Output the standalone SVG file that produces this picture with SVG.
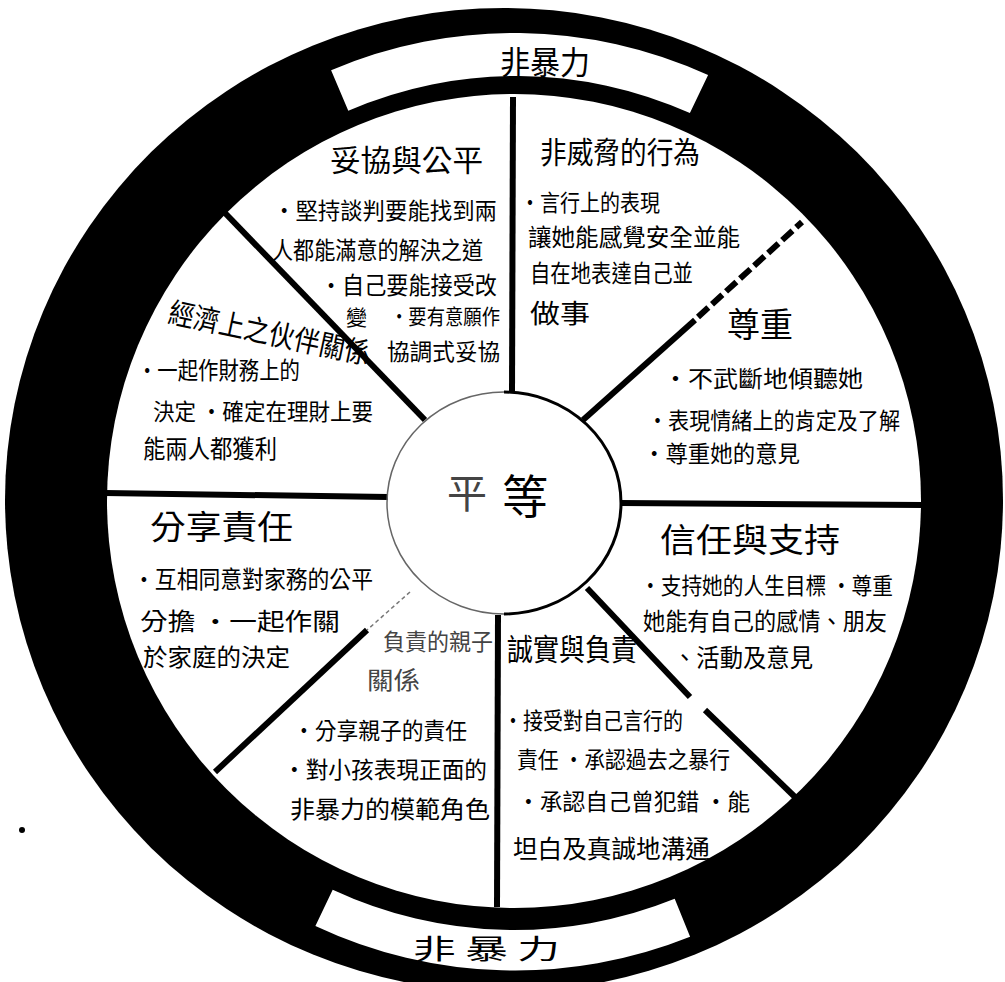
<svg xmlns="http://www.w3.org/2000/svg" width="1005" height="982" viewBox="0 0 1005 982">
<style>
  text { font-family: "Noto Sans CJK TC", "Noto Sans CJK SC", sans-serif; fill: #000; }
  .faint { fill: #444; }
  .spoke { stroke: #000; stroke-width: 6; stroke-linecap: butt; fill: none; }
</style>
<rect width="1005" height="982" fill="#fff"/>
<g id="ring">
  <ellipse cx="504" cy="500" rx="499" ry="492" fill="#000"/>
  <circle cx="514" cy="501" r="407" fill="#fff"/>
</g>
<g id="banner-top">
  <path d="M 331.1 70.2 A 468 468 0 0 1 708.1 75.1 L 689.9 113.1 A 424 424 0 0 0 348.3 110.7 Z" fill="#fff"/>
  <text x="500" y="74" font-size="32" textLength="90" lengthAdjust="spacingAndGlyphs">非暴力</text>
</g>
<g id="banner-bottom">
  <path d="M 674.7 898.8 A 429 429 0 0 1 332.7 889.8 L 315.4 926.0 A 470 470 0 0 0 690.1 936.8 Z" fill="#fff"/>
  <text x="413" y="959" font-size="27" textLength="147" lengthAdjust="spacingAndGlyphs">非 暴 力</text>
</g>
<g id="connectors">
  <line class="spoke" x1="513" y1="97" x2="512" y2="393"/>
  <line class="spoke" x1="583" y1="420" x2="695" y2="320"/>
  <line class="spoke" x1="698" y1="317" x2="802" y2="222" stroke-dasharray="14 5" stroke-width="4"/>
  <line class="spoke" x1="620" y1="503" x2="922" y2="505" stroke-width="7"/>
  <line class="spoke" x1="587" y1="588" x2="690" y2="697"/>
  <line class="spoke" x1="705" y1="710" x2="795" y2="797"/>
  <line class="spoke" x1="498" y1="615" x2="497" y2="907"/>
  <line class="spoke" x1="367" y1="630" x2="215" y2="772" stroke-width="5"/>
  <line x1="410" y1="592" x2="367" y2="630" stroke="#777" stroke-width="1.5" stroke-dasharray="4 3"/>
  <line class="spoke" x1="105" y1="493" x2="388" y2="497"/>
  <line class="spoke" x1="225" y1="213" x2="425" y2="420"/>
</g>
<g id="center">
  <path d="M 504 392 A 117 111 0 0 1 504 614" fill="none" stroke="#000" stroke-width="3"/>
  <path d="M 504 392 A 117 111 0 0 0 504 614" fill="none" stroke="#666" stroke-width="1.5"/>
  <text x="447" y="508" font-size="40" class="faint">平</text>
  <text x="502" y="513" font-size="46">等</text>
</g>
<g id="sector-negotiation">
  <text x="330" y="171" font-size="30" textLength="153" lengthAdjust="spacingAndGlyphs">妥協與公平</text>
  <text x="273" y="219" font-size="23" textLength="224" lengthAdjust="spacingAndGlyphs">•堅持談判要能找到兩</text>
  <text x="272" y="259" font-size="24" textLength="211" lengthAdjust="spacingAndGlyphs">人都能滿意的解決之道</text>
  <text x="320" y="294" font-size="24" textLength="177" lengthAdjust="spacingAndGlyphs">•自己要能接受改</text>
  <text x="346" y="325" font-size="21">變</text>
  <text x="390" y="324" font-size="21" textLength="110" lengthAdjust="spacingAndGlyphs">•要有意願作</text>
  <text x="387" y="360" font-size="23" textLength="113" lengthAdjust="spacingAndGlyphs">協調式妥協</text>
</g>
<g id="sector-non-threatening">
  <text x="540" y="163" font-size="30" textLength="160" lengthAdjust="spacingAndGlyphs">非威脅的行為</text>
  <text x="520" y="211" font-size="23" textLength="140" lengthAdjust="spacingAndGlyphs">•言行上的表現</text>
  <text x="528" y="246" font-size="24" textLength="212" lengthAdjust="spacingAndGlyphs">讓她能感覺安全並能</text>
  <text x="530" y="282" font-size="24" textLength="163" lengthAdjust="spacingAndGlyphs">自在地表達自己並</text>
  <text x="530" y="323" font-size="26" textLength="60" lengthAdjust="spacingAndGlyphs">做事</text>
</g>
<g id="sector-respect">
  <text x="727" y="337" font-size="34" textLength="66" lengthAdjust="spacingAndGlyphs">尊重</text>
  <text x="663" y="387" font-size="23" textLength="200" lengthAdjust="spacingAndGlyphs">•不武斷地傾聽她</text>
  <text x="647" y="429" font-size="23" textLength="253" lengthAdjust="spacingAndGlyphs">•表現情緒上的肯定及了解</text>
  <text x="643" y="462" font-size="23" textLength="157" lengthAdjust="spacingAndGlyphs">•尊重她的意見</text>
</g>
<g id="sector-trust">
  <text x="660" y="552" font-size="33" textLength="180" lengthAdjust="spacingAndGlyphs">信任與支持</text>
  <text x="640" y="594" font-size="23" textLength="253" lengthAdjust="spacingAndGlyphs">•支持她的人生目標 •尊重</text>
  <text x="643" y="630" font-size="24" textLength="244" lengthAdjust="spacingAndGlyphs">她能有自己的感情、朋友</text>
  <text x="673" y="667" font-size="25" textLength="140" lengthAdjust="spacingAndGlyphs">、活動及意見</text>
</g>
<g id="sector-honesty">
  <text x="507" y="660" font-size="30" textLength="130" lengthAdjust="spacingAndGlyphs">誠實與負責</text>
  <text x="503" y="729" font-size="23" textLength="180" lengthAdjust="spacingAndGlyphs">•接受對自己言行的</text>
  <text x="517" y="768" font-size="23" textLength="213" lengthAdjust="spacingAndGlyphs">責任 •承認過去之暴行</text>
  <text x="517" y="810" font-size="23" textLength="233" lengthAdjust="spacingAndGlyphs">•承認自己曾犯錯 •能</text>
  <text x="513" y="858" font-size="25" textLength="197" lengthAdjust="spacingAndGlyphs">坦白及真誠地溝通</text>
</g>
<g id="sector-parenting">
  <text x="383" y="650" font-size="23" class="faint" textLength="110" lengthAdjust="spacingAndGlyphs">負責的親子</text>
  <text x="367" y="689" font-size="24" class="faint" textLength="53" lengthAdjust="spacingAndGlyphs">關係</text>
  <text x="293" y="739" font-size="23" textLength="174" lengthAdjust="spacingAndGlyphs">•分享親子的責任</text>
  <text x="283" y="778" font-size="23" textLength="204" lengthAdjust="spacingAndGlyphs">•對小孩表現正面的</text>
  <text x="290" y="818" font-size="24" textLength="200" lengthAdjust="spacingAndGlyphs">非暴力的模範角色</text>
</g>
<g id="sector-shared-responsibility">
  <text x="150" y="539" font-size="33" textLength="143" lengthAdjust="spacingAndGlyphs">分享責任</text>
  <text x="133" y="588" font-size="24" textLength="240" lengthAdjust="spacingAndGlyphs">•互相同意對家務的公平</text>
  <text x="140" y="630" font-size="24" textLength="200" lengthAdjust="spacingAndGlyphs">分擔  •一起作關</text>
  <text x="143" y="666" font-size="24" textLength="147" lengthAdjust="spacingAndGlyphs">於家庭的決定</text>
</g>
<g id="sector-economic">
  <text x="167" y="322" font-size="29" textLength="205" lengthAdjust="spacingAndGlyphs" transform="rotate(12 167 322)">經濟上之伙伴關係</text>
  <text x="137" y="379" font-size="24" textLength="163" lengthAdjust="spacingAndGlyphs">•一起作財務上的</text>
  <text x="153" y="420" font-size="23" textLength="220" lengthAdjust="spacingAndGlyphs">決定  •確定在理財上要</text>
  <text x="143" y="458" font-size="25" textLength="134" lengthAdjust="spacingAndGlyphs">能兩人都獲利</text>
</g>
<circle cx="22" cy="830" r="3" fill="#000"/>
</svg>
